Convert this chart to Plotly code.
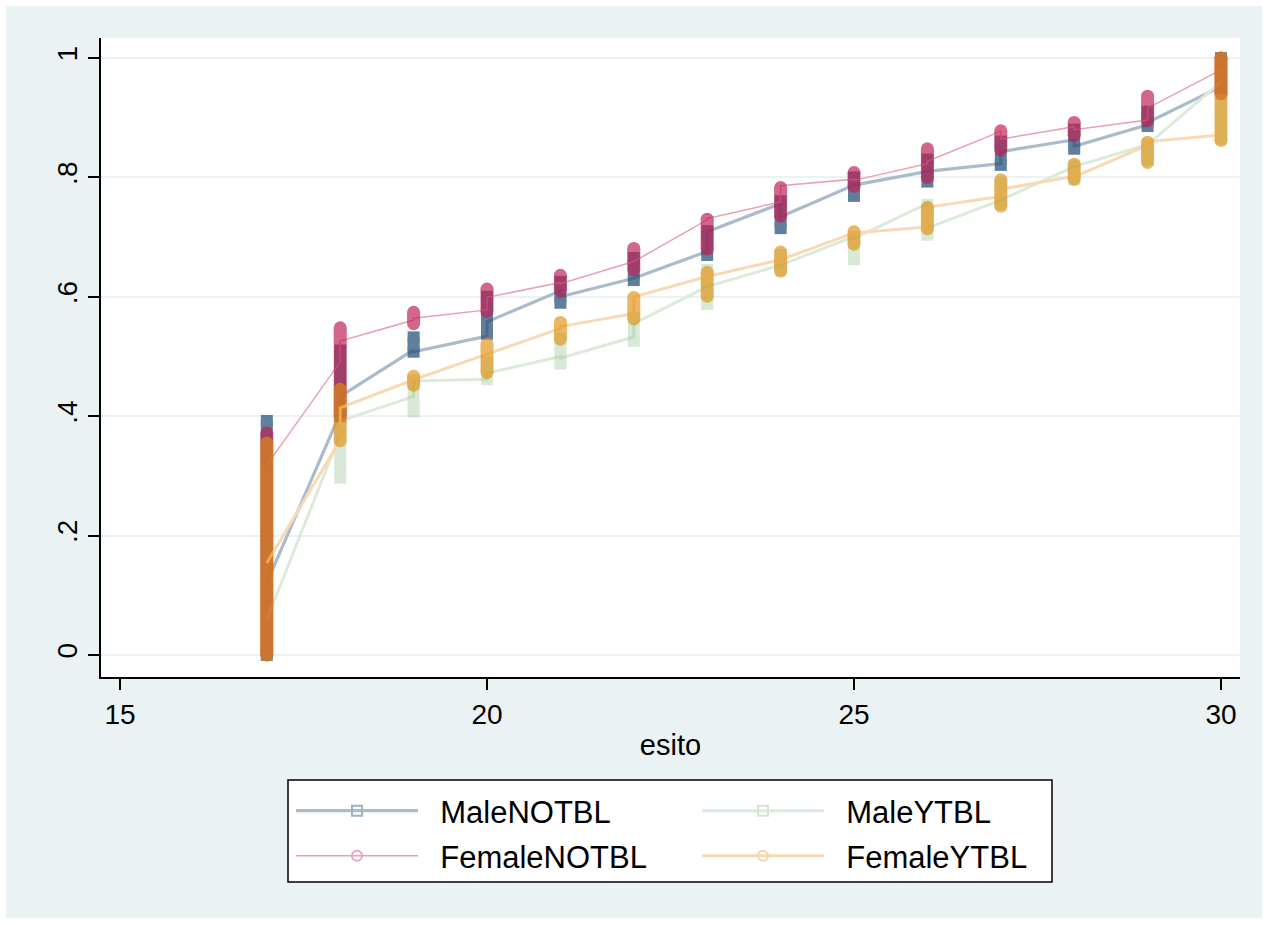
import plotly.graph_objects as go

# ---------------- data ----------------
x_vals = [17, 18, 19, 20, 21, 22, 23, 24, 25, 26, 27, 28, 29, 30]

# vertical extent of the marker stacks at each x
male_notbl_lo = [0.00, 0.400, 0.508, 0.538, 0.590, 0.628, 0.670, 0.715, 0.769, 0.793, 0.821, 0.848, 0.886, 0.950]
male_notbl_hi = [0.392, 0.510, 0.532, 0.600, 0.625, 0.665, 0.710, 0.760, 0.800, 0.830, 0.860, 0.880, 0.910, 1.000]
female_notbl_lo = [0.00, 0.400, 0.555, 0.575, 0.610, 0.645, 0.680, 0.735, 0.785, 0.800, 0.846, 0.870, 0.895, 0.940]
female_notbl_hi = [0.372, 0.548, 0.574, 0.613, 0.636, 0.681, 0.730, 0.783, 0.808, 0.848, 0.878, 0.892, 0.936, 1.000]
male_ytbl_lo = [0.00, 0.297, 0.408, 0.462, 0.488, 0.526, 0.588, 0.645, 0.663, 0.704, 0.755, 0.796, 0.830, 0.865]
male_ytbl_hi = [0.300, 0.410, 0.460, 0.490, 0.530, 0.565, 0.645, 0.670, 0.700, 0.754, 0.790, 0.820, 0.855, 1.000]
female_ytbl_lo = [0.00, 0.359, 0.452, 0.473, 0.529, 0.563, 0.601, 0.643, 0.688, 0.714, 0.752, 0.797, 0.825, 0.862]
female_ytbl_hi = [0.355, 0.445, 0.467, 0.521, 0.557, 0.599, 0.641, 0.675, 0.709, 0.750, 0.796, 0.822, 0.859, 1.000]

# where the connecting line enters / leaves each stack
male_notbl_in = [None, 0.405, 0.511, 0.534, 0.610, 0.631, 0.676, 0.756, 0.787, 0.810, 0.823, 0.863, 0.888, 0.952]
male_notbl_out = [0.121, 0.433, 0.508, 0.558, 0.600, 0.631, 0.709, 0.734, 0.787, 0.810, 0.843, 0.852, 0.892, None]
female_notbl_in = [None, 0.491, 0.561, 0.578, 0.624, 0.659, 0.729, 0.759, 0.797, 0.823, 0.877, 0.885, 0.896, 0.980]
female_notbl_out = [0.318, 0.526, 0.564, 0.599, 0.622, 0.659, 0.731, 0.786, 0.795, 0.827, 0.864, 0.880, 0.916, None]
male_ytbl_in = [None, 0.370, 0.433, 0.462, 0.500, 0.533, 0.617, 0.653, 0.701, 0.756, 0.762, 0.818, 0.855, 0.960]
male_ytbl_out = [0.059, 0.392, 0.459, 0.472, 0.497, 0.555, 0.617, 0.653, 0.698, 0.715, 0.762, 0.818, 0.855, None]
female_ytbl_in = [None, 0.360, 0.461, 0.504, 0.547, 0.572, 0.634, 0.662, 0.706, 0.717, 0.768, 0.802, 0.854, 0.871]
female_ytbl_out = [0.154, 0.414, 0.461, 0.504, 0.550, 0.600, 0.634, 0.662, 0.707, 0.750, 0.780, 0.801, 0.860, None]

x_ticks = [15, 20, 25, 30]
y_ticks = [0, 0.2, 0.4, 0.6, 0.8, 1]
y_tick_text = ["0", ".2", ".4", ".6", ".8", "1"]

# ---------------- styling ----------------
FONT = "Liberation Sans, Arial, sans-serif"
series = [
    dict(name="MaleNOTBL", lo=male_notbl_lo, hi=male_notbl_hi, lin=male_notbl_in, lout=male_notbl_out,
         scol="#1F4A73", sop=0.70, sym="square", size=12, lcol="#AABBCB", lw=3.2,
         legcol="#9DB1C5", legsym="square-open", leg="legend"),
    dict(name="MaleYTBL", lo=male_ytbl_lo, hi=male_ytbl_hi, lin=male_ytbl_in, lout=male_ytbl_out,
         scol="#8FC28C", sop=0.34, sym="square", size=12, lcol="#DCEBD9", lw=3,
         legcol="#D2E6CF", legsym="square-open", leg="legend2"),
    dict(name="FemaleNOTBL", lo=female_notbl_lo, hi=female_notbl_hi, lin=female_notbl_in, lout=female_notbl_out,
         scol="#BE2055", sop=0.68, sym="circle", size=13, lcol="#E8A0B3", lw=1.5,
         legcol="#EAA6B8", legsym="circle-open", leg="legend3"),
    dict(name="FemaleYTBL", lo=female_ytbl_lo, hi=female_ytbl_hi, lin=female_ytbl_in, lout=female_ytbl_out,
         scol="#E2900F", sop=0.64, sym="circle", size=13, lcol="#F7DAB5", lw=3,
         legcol="#F6D4AA", legsym="circle-open", leg="legend4"),
]

fig = go.Figure()

for s in series:
    # connecting line
    px, py = [], []
    for x, a, b in zip(x_vals, s["lin"], s["lout"]):
        if a is not None:
            px.append(x); py.append(a)
        if b is not None:
            px.append(x); py.append(b)
    fig.add_trace(go.Scatter(x=px, y=py, mode="lines", line=dict(color=s["lcol"], width=s["lw"]),
                             showlegend=False, hoverinfo="skip"))
    # marker stacks
    sx, sy = [], []
    for x, a, b in zip(x_vals, s["lo"], s["hi"]):
        sx += [x, x, None]
        sy += [a, b, None]
    fig.add_trace(go.Scatter(x=sx, y=sy, mode="lines+markers", opacity=s["sop"],
                             line=dict(color=s["scol"], width=s["size"]),
                             marker=dict(symbol=s["sym"], size=s["size"], color=s["scol"], line=dict(width=0)),
                             showlegend=False, hoverinfo="skip"))

# legend entries
for s in series:
    fig.add_trace(go.Scatter(x=[None], y=[None], mode="lines+markers", name="\u00a0\u00a0" + s["name"],
                             line=dict(color=s["lcol"], width=s["lw"]),
                             marker=dict(symbol=s["legsym"], size=10, color=s["legcol"],
                                         line=dict(width=2, color=s["legcol"])),
                             legend=s["leg"]))

# geometry (pixels -> paper)
L, R, T, B = 101, 1240, 38, 677
W, H = R - L, B - T
def px_x(p):
    return (p - L) / W
def px_y(p):
    return (B - p) / H

leg_common = dict(bgcolor="rgba(0,0,0,0)", borderwidth=0, font=dict(family=FONT, size=31, color="black"),
                  itemwidth=122, xanchor="left", yanchor="middle", orientation="v")
col1, col2 = px_x(291), px_x(697)
row1, row2 = px_y(811), px_y(856)

fig.update_layout(
    width=1268, height=925,
    margin=dict(l=L, r=1268 - R, t=T, b=925 - B, pad=0),
    paper_bgcolor="white", plot_bgcolor="white",
    font=dict(family=FONT, size=28, color="black"),
    legend=dict(x=col1, y=row1, **leg_common),
    legend2=dict(x=col2, y=row1, **leg_common),
    legend3=dict(x=col1, y=row2, **leg_common),
    legend4=dict(x=col2, y=row2, **leg_common),
    shapes=[
        dict(type="rect", xref="paper", yref="paper", x0=px_x(6), x1=px_x(1262), y0=px_y(918), y1=px_y(6),
             fillcolor="#EAF2F3", line=dict(width=0), layer="below"),
        dict(type="rect", xref="paper", yref="paper", x0=0, x1=1, y0=0, y1=1,
             fillcolor="white", line=dict(width=0), layer="below"),
        dict(type="rect", xref="paper", yref="paper", x0=px_x(288), x1=px_x(1052), y0=px_y(882), y1=px_y(780),
             fillcolor="white", line=dict(width=1.5, color="black"), layer="below"),
    ],
    showlegend=True,
)

fig.update_xaxes(range=[14.741, 30.259], tickvals=x_ticks, ticks="outside", ticklen=11, tickwidth=2,
                 tickcolor="black", showline=True, linecolor="black", linewidth=2, showgrid=False,
                 zeroline=False, tickfont=dict(family=FONT, size=28),
                 title=dict(text="esito", font=dict(family=FONT, size=29), standoff=6))
fig.update_yaxes(range=[-0.0369, 1.0335], tickvals=y_ticks, ticktext=y_tick_text, tickangle=-90,
                 ticks="outside", ticklen=11, tickwidth=2, tickcolor="black", showline=True,
                 linecolor="black", linewidth=2, showgrid=True, gridcolor="#EAF2F3", gridwidth=2,
                 zeroline=False, tickfont=dict(family=FONT, size=28))

fig.write_html("out.html")
